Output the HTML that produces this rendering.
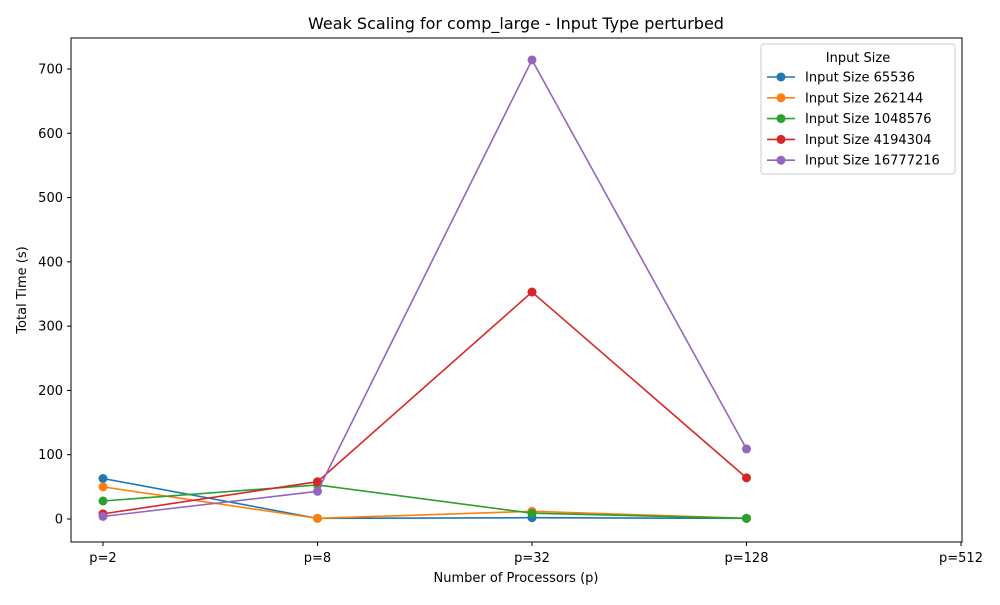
<!DOCTYPE html>
<html><head><meta charset="utf-8"><style>
body{margin:0;background:#fff;font-family:"Liberation Sans","DejaVu Sans",sans-serif;}
svg text{font-family:"DejaVu Sans","Liberation Sans",sans-serif;}
</style></head><body>
<svg id="chart" width="1000" height="600" xmlns="http://www.w3.org/2000/svg">
<rect width="1000" height="600" fill="#fff"/>
<text x="516" y="29" font-size="16" text-anchor="middle">Weak Scaling for comp_large - Input Type perturbed</text>
<text x="516" y="582" font-size="13" text-anchor="middle">Number of Processors (p)</text>
<text transform="translate(26,290) rotate(-90)" font-size="13" text-anchor="middle">Total Time (s)</text>
<g id="axes"></g><g id="series"></g>
<rect x="71" y="38" width="891" height="504" fill="none" stroke="#000" stroke-width="1"/>
<g id="legend"></g>
</svg>
<script>
const categories = ["p=2","p=8","p=32","p=128","p=512"];
const yTicks = [0,100,200,300,400,500,600,700];
const seriesNames = ["Input Size 65536","Input Size 262144","Input Size 1048576","Input Size 4194304","Input Size 16777216"];
const s65536 = [63,1,2,1];
const s262144 = [50,1,12,1];
const s1048576 = [28,53,9,1];
const s4194304 = [8,58,353,64];
const s16777216 = [4,43,714,109];
const colors = ["#1f77b4","#ff7f0e","#2ca02c","#d62728","#9467bd"];
const allSeries = [s65536,s262144,s1048576,s4194304,s16777216];
const NS="http://www.w3.org/2000/svg";
function xs(i){return 103+i*214.5;}
function ys(v){return 519-v*0.6429;}
function mk(tag,attrs,parent){const e=document.createElementNS(NS,tag);for(const k in attrs)e.setAttribute(k,attrs[k]);parent.appendChild(e);return e;}
const axes=document.getElementById('axes');
categories.forEach((c,i)=>{
  const t=mk('line',{x1:xs(i),x2:xs(i),y1:542,y2:546,stroke:'#000'},axes);
  
  
  const l=mk('text',{x:xs(i),y:562,'font-size':13,'text-anchor':'middle'},axes);l.textContent=c;
  
  
});
yTicks.forEach(v=>{
  const t=mk('line',{x1:67,x2:71,y1:ys(v),y2:ys(v),stroke:'#000'},axes);
  
  
  const l=mk('text',{x:63,y:ys(v)+4.5,'font-size':13,'text-anchor':'end'},axes);l.textContent=v;
  
  
});
const sg=document.getElementById('series');
allSeries.forEach((s,k)=>{
  const g=mk('g',{},sg);
  
  
  const pl=mk('polyline',{points:s.map((v,i)=>xs(i)+','+ys(v)).join(' '),fill:'none',stroke:colors[k],'stroke-width':1.6},g);
  
  
  s.forEach((v,i)=>{
    const c=mk('circle',{cx:xs(i),cy:ys(v),r:4.5,fill:colors[k]},g);
    
    
  });
});
const lg=document.getElementById('legend');
const box=mk('rect',{x:761,y:44,width:194,height:130,rx:3,fill:'#fff',stroke:'#ccc'},lg);


const lt=mk('text',{x:858,y:62,'font-size':13,'text-anchor':'middle'},lg);lt.textContent='Input Size';


seriesNames.forEach((n,k)=>{
  const y=77+k*20.8;
  const g=mk('g',{},lg);
  
  
  mk('line',{x1:767,x2:795,y1:y,y2:y,stroke:colors[k],'stroke-width':1.6},g);
  mk('circle',{cx:781,cy:y,r:4.5,fill:colors[k]},g);
  const t=mk('text',{x:805,y:y+4.5,'font-size':13},g);t.textContent=n;
});
</script>
</body></html>
